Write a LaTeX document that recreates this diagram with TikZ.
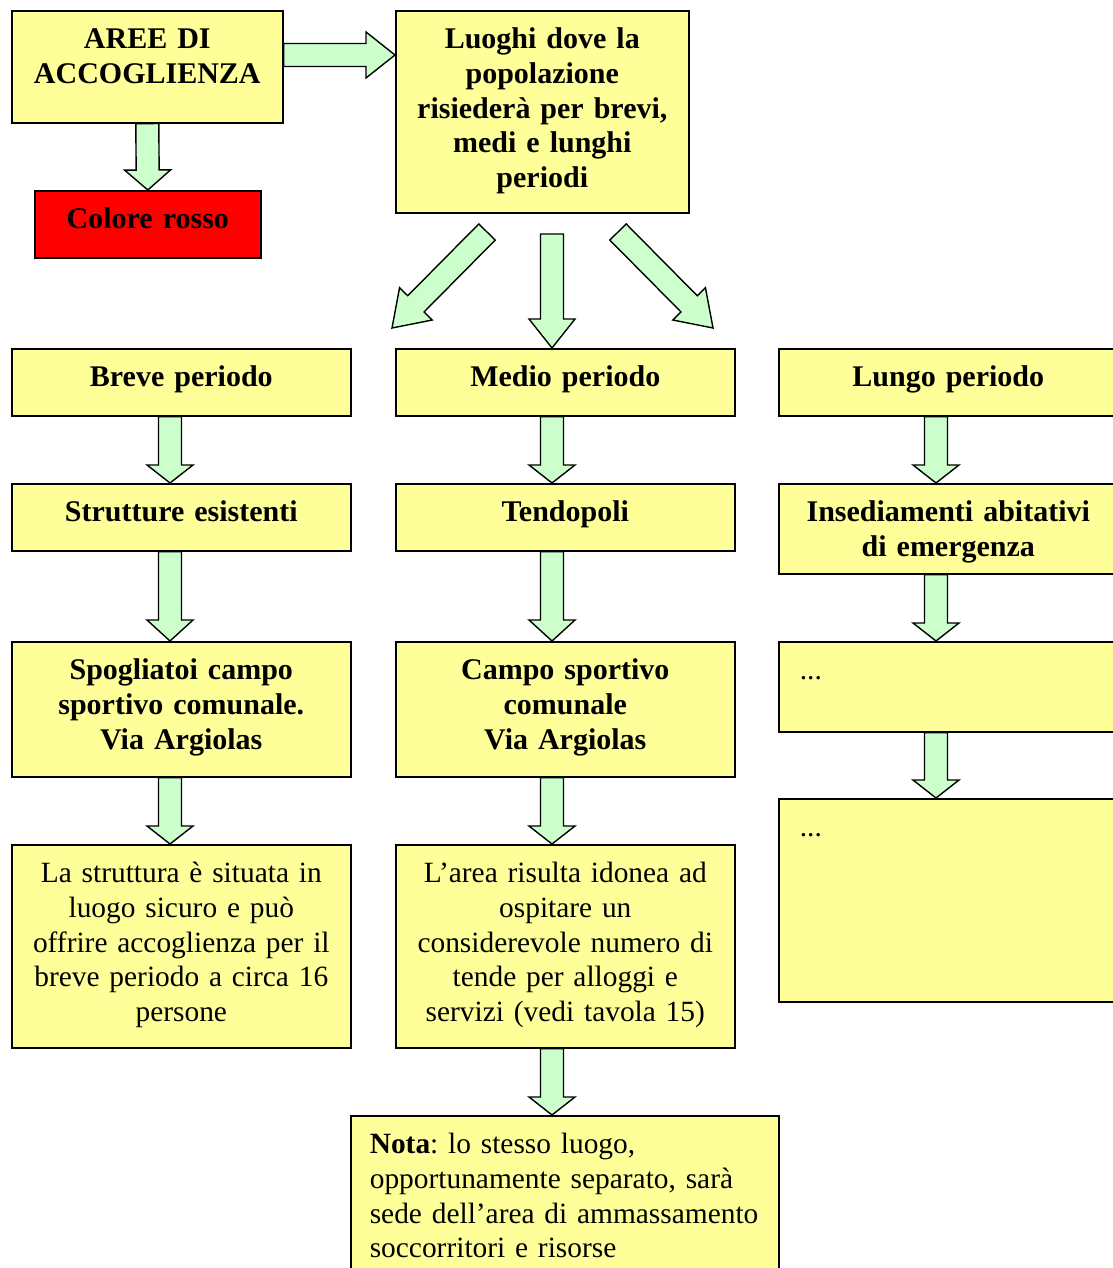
\documentclass[tikz,border=0pt]{standalone}
\usepackage{fontspec}
\setmainfont{Liberation Serif}
\usetikzlibrary{calc}
\definecolor{boxyellow}{RGB}{255,255,153}
\definecolor{arrgreen}{RGB}{204,255,204}
\definecolor{boxred}{RGB}{255,0,0}
\frenchspacing

% block arrow: [head length]{from}{to}
\newcommand{\fatarrow}[3][18]{%
  \coordinate (fb) at ($(#3)!#1pt!(#2)$);
  \draw[fatarr] ($(#2)!11.5pt!90:(#3)$) -- ($(fb)!11.5pt!90:(#3)$) -- ($(fb)!23pt!90:(#3)$) -- (#3)
    -- ($(fb)!23pt!-90:(#3)$) -- ($(fb)!11.5pt!-90:(#3)$) -- ($(#2)!11.5pt!-90:(#3)$) -- cycle;}

\begin{document}
\begin{tikzpicture}[x=1pt, y=-1pt,
  box/.style={draw, line width=1.6pt, fill=boxyellow, anchor=north west, inner xsep=18pt,
    inner ysep=0pt, text height=38pt, align=center, font=\fontsize{29.4}{34.7}\selectfont},
  title/.style={box, font=\fontsize{30}{34.7}\selectfont\bfseries},
  fatarr/.style={line width=1.4pt, draw=black, fill=arrgreen, line join=miter}]
\useasboundingbox (0,0) rectangle (1112,1268);

% top boxes
\node[title, text width=235pt, text depth=74pt] (aree) at (11,10) {AREE DI\\ACCOGLIENZA};
\node[title, fill=boxred, text width=190pt, text depth=29pt] (rosso) at (34,190) {Colore rosso};
\node[title, text width=257pt, text depth=164pt] (luoghi) at (395,10)
  {Luoghi dove la\\popolazione\\risiederà per brevi,\\medi e lunghi\\periodi};

% three columns
\node[title, text width=303pt, text depth=29pt] (breve) at (11,348) {Breve periodo};
\node[title, text width=303pt, text depth=29pt] (medio) at (395,348) {Medio periodo};
\node[title, text width=303pt, text depth=29pt] (lungo) at (778,348) {Lungo periodo};

\node[title, text width=303pt, text depth=29pt] (strutture) at (11,483) {Strutture esistenti};
\node[title, text width=303pt, text depth=29pt] (tendopoli) at (395,483) {Tendopoli};
\node[title, text width=303pt, text depth=52pt] (insediamenti) at (778,483)
  {Insediamenti abitativi\\di emergenza};

\node[title, text width=303pt, text depth=97pt] (spogliatoi) at (11,641)
  {Spogliatoi campo\\sportivo comunale.\\Via Argiolas};
\node[title, text width=303pt, text depth=97pt] (campo) at (395,641)
  {Campo sportivo\\comunale\\Via Argiolas};
\node[box, align=left, inner xsep=21pt, text width=297pt, text depth=52pt] (dotsa) at (778,641) {...};

\node[box, text width=303pt, text depth=165pt] (breveinfo) at (11,844)
  {La struttura è situata in\\luogo sicuro e può\\offrire accoglienza per il\\breve periodo a circa 16\\persone};
\node[box, text width=303pt, text depth=165pt] (medioinfo) at (395,844)
  {L’area risulta idonea ad\\ospitare un\\considerevole numero di\\tende per alloggi e\\servizi (vedi tavola 15)};
\node[box, align=left, inner xsep=21pt, text width=297pt, text depth=165pt] (dotsb) at (778,798) {...};

\node[box, align=left, inner xsep=19pt, text width=390pt, text depth=130pt] (nota) at (350,1115)
  {\textbf{Nota}: lo stesso luogo,\\opportunamente separato, sarà\\\mbox{sede dell’area di ammassamento}\\soccorritori e risorse};

% arrows
\fatarrow[29]{aree.east |- 0,55}{luoghi.west |- 0,55}
\fatarrow[20]{aree.south}{rosso.north}

\coordinate (lsx) at (487,232);
\coordinate (lsxtip) at (392,328);
\coordinate (ldx) at (618,232);
\coordinate (ldxtip) at (713,328);
\fatarrow[34]{lsx}{lsxtip}
\fatarrow[29]{552,234}{medio.north -| 552,0}
\fatarrow[34]{ldx}{ldxtip}

\fatarrow{breve.south -| 170,0}{strutture.north -| 170,0}
\fatarrow[21]{strutture.south -| 170,0}{spogliatoi.north -| 170,0}
\fatarrow{spogliatoi.south -| 170,0}{breveinfo.north -| 170,0}

\fatarrow{medio.south -| 552,0}{tendopoli.north -| 552,0}
\fatarrow[21]{tendopoli.south -| 552,0}{campo.north -| 552,0}
\fatarrow{campo.south -| 552,0}{medioinfo.north -| 552,0}
\fatarrow{medioinfo.south -| 552,0}{nota.north -| 552,0}

\fatarrow{lungo.south -| 936,0}{insediamenti.north -| 936,0}
\fatarrow{insediamenti.south -| 936,0}{dotsa.north -| 936,0}
\fatarrow{dotsa.south -| 936,0}{dotsb.north -| 936,0}
\end{tikzpicture}
\end{document}
